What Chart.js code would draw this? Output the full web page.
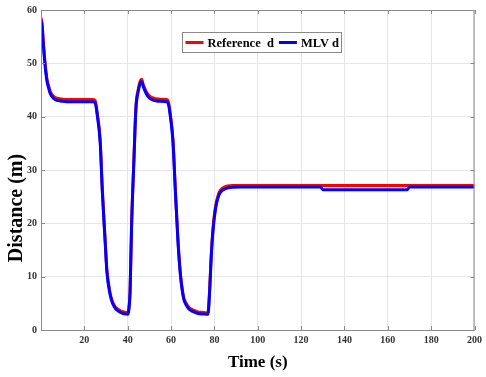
<!DOCTYPE html>
<html>
<head>
<meta charset="utf-8">
<script src="https://cdn.jsdelivr.net/npm/chart.js@4/dist/chart.umd.min.js"></script>
<style>
  html, body { margin: 0; padding: 0; background: #fff; }
  #wrap { width: 486px; height: 377px; }
</style>
</head>
<body>
<div id="wrap"><canvas id="distChart" width="486" height="377"></canvas></div>
<script>
// time samples (s)
const timeS = [0, 0.5, 1, 1.5, 2, 2.7, 3.5, 4.2, 5, 6.5, 8, 9.5, 12, 16, 20, 24, 25, 26, 27.3, 28.3, 29.6, 30.4, 31.9, 33, 34.2, 35.5, 37.2, 38.5, 40, 40.5, 41.1, 41.8, 42.9, 43.8, 44.9, 45.7, 46.4, 47.2, 48.7, 50, 51.7, 54, 57.9, 58.6, 59.5, 60.9, 62, 63.2, 64.3, 65.8, 67, 68.6, 70, 72.4, 75, 77, 77.8, 78.5, 79.3, 80.5, 82, 83.2, 84.6, 86, 88.4, 92, 100, 129, 130, 169, 170, 200];

// Reference d (red)
const refD = [58.5, 57.5, 54.5, 51.8, 49.6, 47.2, 45.8, 44.8, 44.2, 43.6, 43.4, 43.3, 43.2, 43.2, 43.2, 43.2, 43.0, 40.5, 35.6, 26.3, 16.9, 11.3, 6.9, 5.3, 4.4, 3.9, 3.5, 3.35, 3.25, 4.0, 7.5, 20, 32.5, 41.9, 45.2, 46.6, 47.0, 46.0, 44.6, 43.9, 43.5, 43.3, 43.2, 43.0, 41.0, 35.6, 26.3, 16.9, 10.7, 6.2, 5.0, 4.1, 3.8, 3.4, 3.3, 3.2, 7.5, 13.75, 18.75, 23.1, 25.6, 26.4, 26.8, 27.0, 27.1, 27.1, 27.1, 27.1, 27.1, 27.1, 27.1, 27.1];

// MLV d (blue)
const mlvD = [58.0, 57.0, 54.0, 51.3, 49.1, 46.8, 45.4, 44.4, 43.8, 43.2, 43.0, 42.9, 42.8, 42.8, 42.8, 42.8, 42.6, 40.1, 35.2, 25.9, 16.5, 10.9, 6.6, 5.0, 4.1, 3.6, 3.2, 3.05, 2.95, 3.7, 7.2, 19.6, 32.1, 41.5, 44.8, 46.2, 46.6, 45.6, 44.2, 43.5, 43.1, 42.9, 42.8, 42.6, 40.6, 35.2, 25.9, 16.5, 10.4, 5.9, 4.7, 3.8, 3.5, 3.1, 3.0, 2.95, 7.2, 13.4, 18.4, 22.7, 25.2, 26.0, 26.4, 26.6, 26.75, 26.8, 26.8, 26.8, 26.3, 26.3, 26.8, 26.8];

const xTicks = [20, 40, 60, 80, 100, 120, 140, 160, 180, 200];
const yTicks = [0, 10, 20, 30, 40, 50, 60];

const seriesNames = ['Reference  d', 'MLV d'];
const seriesColors = ['#ff0000', '#0000ff'];
const yTitle = 'Distance (m)';

const serif = "'Liberation Serif', 'DejaVu Serif', serif";

function toPoints(ys) {
  return timeS.map((t, i) => ({ x: t, y: ys[i] }));
}

// box round the axes, inward ticks, y title and the legend inside the plot
const frameAndLegend = {
  id: 'frameAndLegend',
  afterDraw(chart) {
    const { ctx, chartArea: a, scales } = chart;
    ctx.save();
    ctx.strokeStyle = '#8a8a8a';
    ctx.lineWidth = 1;
    ctx.strokeRect(a.left + 0.5, a.top + 0.5, a.right - a.left - 1, a.bottom - a.top);

    // inward ticks
    ctx.beginPath();
    xTicks.forEach(v => {
      const px = Math.round(scales.x.getPixelForValue(v)) + 0.5;
      ctx.moveTo(px, a.bottom); ctx.lineTo(px, a.bottom - 4);
      ctx.moveTo(px, a.top); ctx.lineTo(px, a.top + 4);
    });
    yTicks.forEach(v => {
      const py = Math.round(scales.y.getPixelForValue(v)) + 0.5;
      ctx.moveTo(a.left, py); ctx.lineTo(a.left + 4, py);
      ctx.moveTo(a.right, py); ctx.lineTo(a.right - 4, py);
    });
    ctx.stroke();

    // y title sits lower than the middle in the original
    ctx.save();
    ctx.translate(17, 208);
    ctx.rotate(-Math.PI / 2);
    ctx.font = 'bold 20px ' + serif;
    ctx.fillStyle = '#000';
    ctx.textAlign = 'center';
    ctx.textBaseline = 'middle';
    ctx.fillText(yTitle, 0, 0);
    ctx.restore();

    // legend
    ctx.font = 'bold 12.5px ' + serif;
    const lineLen = 18, gap = 4, itemGap = 5, padX = 3;
    const widths = seriesNames.map(n => ctx.measureText(n).width);
    const boxW = Math.round(padX * 2 + widths.reduce((s, w) => s + lineLen + gap + w, 0) + itemGap);
    const boxH = 20;
    const bx = 182.5;
    const by = 32.5;
    ctx.fillStyle = '#fff';
    ctx.fillRect(bx, by, boxW, boxH);
    ctx.strokeStyle = '#8a8a8a';
    ctx.lineWidth = 1;
    ctx.strokeRect(bx, by, boxW, boxH);

    let cx = bx + padX;
    const cy = by + boxH / 2;
    seriesNames.forEach((n, i) => {
      ctx.strokeStyle = seriesColors[i];
      ctx.lineWidth = 3;
      ctx.beginPath();
      ctx.moveTo(cx, cy); ctx.lineTo(cx + lineLen, cy);
      ctx.stroke();
      cx += lineLen + gap;
      ctx.fillStyle = '#000';
      ctx.textBaseline = 'middle';
      ctx.fillText(n, cx, cy + 1);
      cx += widths[i] + itemGap;
    });
    ctx.restore();
  }
};

const ctx = document.getElementById('distChart').getContext('2d');

new Chart(ctx, {
  type: 'line',
  data: {
    datasets: [
      {
        label: seriesNames[0],
        data: toPoints(refD),
        borderColor: seriesColors[0],
        borderWidth: 3,
        pointRadius: 0,
        cubicInterpolationMode: 'monotone',
        fill: false,
        order: 2
      },
      {
        label: seriesNames[1],
        data: toPoints(mlvD),
        borderColor: seriesColors[1],
        borderWidth: 3,
        pointRadius: 0,
        cubicInterpolationMode: 'monotone',
        fill: false,
        order: 1
      }
    ]
  },
  options: {
    responsive: false,
    animation: false,
    layout: { padding: { top: 10, right: 9, left: 0, bottom: 0 } },
    plugins: {
      legend: { display: false },
      tooltip: { enabled: false }
    },
    scales: {
      x: {
        type: 'linear',
        min: 0,
        max: 200,
        afterFit: s => { s.height = 47; },
        afterBuildTicks: s => { s.ticks = [0].concat(xTicks).map(v => ({ value: v })); },
        grid: { color: '#e6e6e6', drawTicks: false },
        border: { display: false },
        ticks: {
          padding: 4,
          color: '#333',
          font: { family: serif, size: 10, weight: 'bold' },
          callback: v => (v === 0 ? '' : v),
          maxRotation: 0
        },
        title: {
          display: true,
          text: 'Time (s)',
          color: '#000',
          font: { family: serif, size: 17, weight: 'bold' },
          padding: { top: 3 }
        }
      },
      y: {
        min: 0,
        max: 60,
        afterFit: s => { s.width = 41; },
        afterBuildTicks: s => { s.ticks = yTicks.map(v => ({ value: v })); },
        grid: { color: '#e6e6e6', drawTicks: false },
        border: { display: false },
        ticks: {
          padding: 4,
          color: '#333',
          font: { family: serif, size: 10, weight: 'bold' }
        },
        title: { display: false }
      }
    }
  },
  plugins: [frameAndLegend]
});
</script>
</body>
</html>
